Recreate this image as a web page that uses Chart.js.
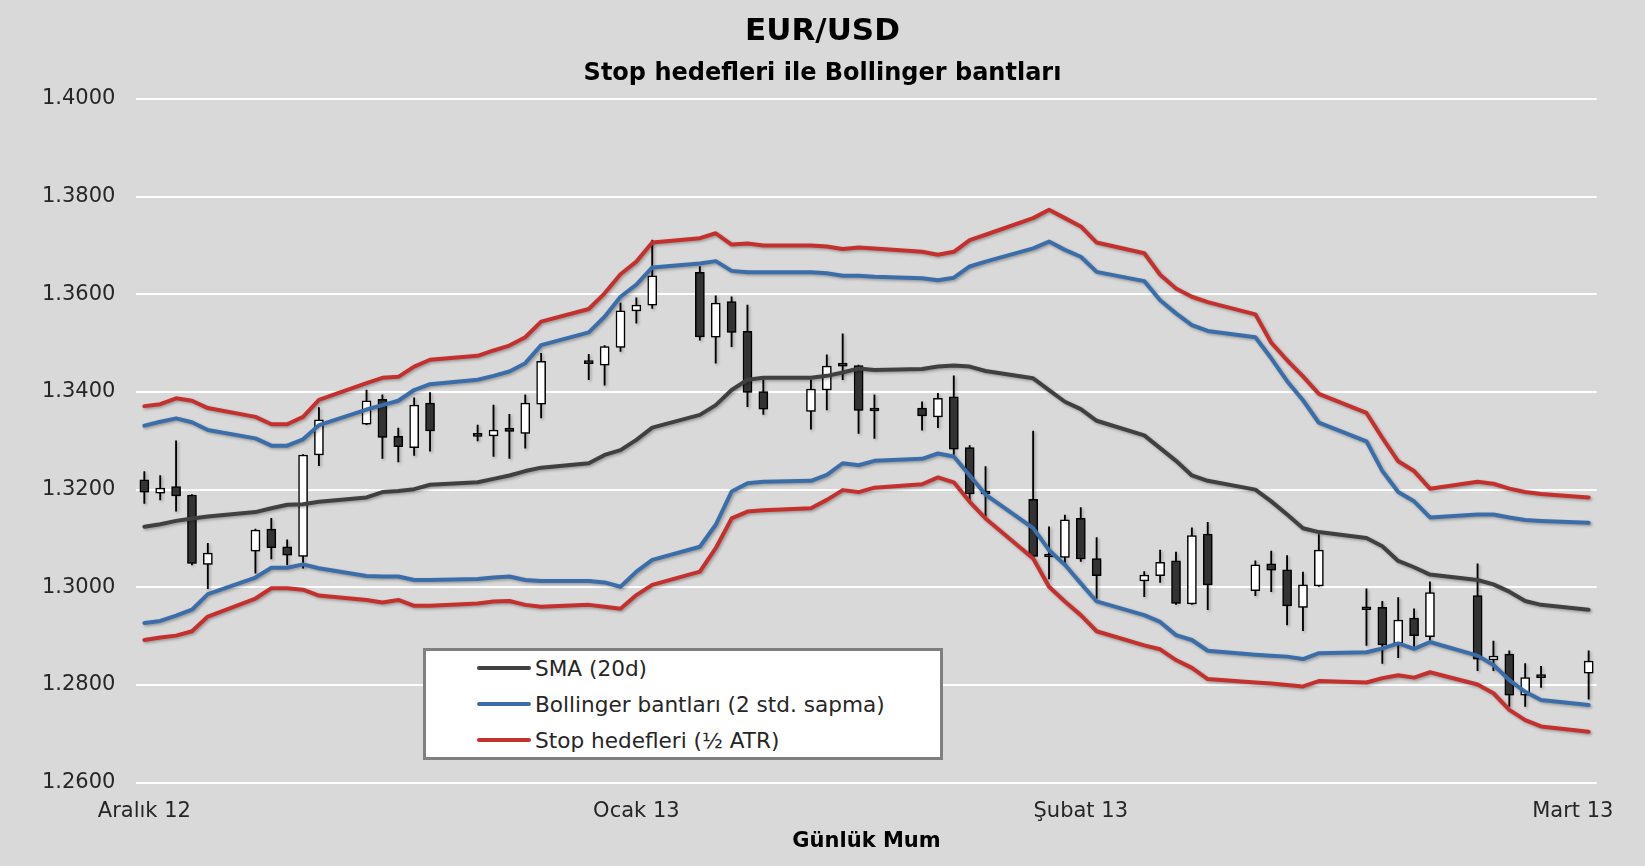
<!DOCTYPE html>
<html lang="tr">
<head>
<meta charset="utf-8">
<title>EUR/USD - Stop hedefleri ile Bollinger bantları</title>
<script src="https://cdn.jsdelivr.net/npm/chart.js@4.4.1/dist/chart.umd.min.js"></script>
<style>
  html, body { margin: 0; padding: 0; background: #d9d9d9; }
  #wrap { position: relative; width: 1645px; height: 866px; }
  #legend {
    position: absolute; left: 423px; top: 648px; width: 520px; height: 112px;
    box-sizing: border-box; background: #fff; border: 3px solid #7f7f7f;
    padding-left: 51px;
  }
  #legend .item {
    height: 36px; display: flex; align-items: center; white-space: nowrap;
    font: 21.6px "DejaVu Sans", Verdana, sans-serif; color: #262626;
  }
  #legend .item:first-child { margin-top: -1px; }
  #legend .swatch { width: 54px; height: 4px; border-radius: 2px; margin-right: 4px; }
</style>
</head>
<body>
<div id="wrap">
  <canvas id="chart" width="1645" height="866"></canvas>
  <div id="legend"></div>
</div>
<script>
// trading days shown on the chart
const tradeDates = [
  '2012-12-03','2012-12-04','2012-12-05','2012-12-06','2012-12-07',
  '2012-12-10','2012-12-11','2012-12-12','2012-12-13','2012-12-14',
  '2012-12-17','2012-12-18','2012-12-19','2012-12-20','2012-12-21',
  '2012-12-24','2012-12-25','2012-12-26','2012-12-27','2012-12-28',
  '2012-12-31','2013-01-01','2013-01-02','2013-01-03','2013-01-04',
  '2013-01-07','2013-01-08','2013-01-09','2013-01-10','2013-01-11',
  '2013-01-14','2013-01-15','2013-01-16','2013-01-17','2013-01-18',
  '2013-01-21','2013-01-22','2013-01-23','2013-01-24','2013-01-25',
  '2013-01-28','2013-01-29','2013-01-30','2013-01-31','2013-02-01',
  '2013-02-04','2013-02-05','2013-02-06','2013-02-07','2013-02-08',
  '2013-02-11','2013-02-12','2013-02-13','2013-02-14','2013-02-15',
  '2013-02-18','2013-02-19','2013-02-20','2013-02-21','2013-02-22',
  '2013-02-25','2013-02-26','2013-02-27','2013-02-28','2013-03-01',
  '2013-03-04'
];

// candles
const openP = [
  1.3220,1.3193,1.3206,1.3189,1.3047, 1.3074,1.3119,1.3083,1.3063,1.3271,
  1.3334,1.3385,1.3309,1.3286,1.3377, 1.3312,1.3310,1.3326,1.3315,1.3375,
  1.3461,1.3455,1.3491,1.3566,1.3578, 1.3645,1.3512,1.3585,1.3524,1.3401,
  1.3360,1.3404,1.3456,1.3454,1.3363, 1.3367,1.3349,1.3390,1.3286,1.3193,
  1.3180,1.3064,1.3061,1.3141,1.3059, 1.3013,1.3024,1.3054,1.2966,1.3109,
  1.2993,1.3048,1.3036,1.2959,1.3003, 1.2956,1.2959,1.2885,1.2937,1.2899,
  1.2983,1.2851,1.2863,1.2779,1.2817, 1.2824
];
const highP = [
  1.3237,1.3229,1.3300,1.3190,1.3090, 1.3119,1.3141,1.3097,1.3272,1.3368,
  1.3404,1.3394,1.3326,1.3388,1.3399, 1.3332,1.3373,1.3354,1.3394,1.3479,
  1.3477,1.3495,1.3582,1.3593,1.3711, 1.3657,1.3597,1.3595,1.3578,1.3425,
  1.3425,1.3476,1.3519,1.3455,1.3394, 1.3380,1.3397,1.3433,1.3290,1.3247,
  1.3320,1.3124,1.3148,1.3163,1.3102, 1.3032,1.3076,1.3072,1.3122,1.3133,
  1.3054,1.3074,1.3065,1.3031,1.3108, 1.2997,1.2971,1.2979,1.2956,1.3011,
  1.3048,1.2890,1.2870,1.2844,1.2838, 1.2870
];
const lowP = [
  1.3172,1.3179,1.3156,1.3046,1.2997, 1.3029,1.3058,1.3046,1.3039,1.3249,
  1.3333,1.3264,1.3257,1.3270,1.3279, 1.3300,1.3268,1.3264,1.3285,1.3347,
  1.3425,1.3414,1.3483,1.3541,1.3571, 1.3506,1.3459,1.3493,1.3370,1.3354,
  1.3324,1.3363,1.3425,1.3315,1.3305, 1.3322,1.3327,1.3271,1.3179,1.3145,
  1.3063,1.3017,1.3042,1.3053,1.2977, 1.2981,1.3010,1.2965,1.2965,1.2954,
  1.2983,1.2991,1.2923,1.2911,1.3002, 1.2881,1.2844,1.2856,1.2879,1.2890,
  1.2829,1.2829,1.2756,1.2756,1.2795, 1.2771
];
const closeP = [
  1.3195,1.3203,1.3187,1.3049,1.3070, 1.3117,1.3081,1.3066,1.3271,1.3343,
  1.3382,1.3307,1.3288,1.3373,1.3320, 1.3309,1.3322,1.3319,1.3377,1.3463,
  1.3458,1.3493,1.3566,1.3578,1.3638, 1.3513,1.3582,1.3522,1.3399,1.3365,
  1.3406,1.3453,1.3453,1.3362,1.3361, 1.3351,1.3387,1.3283,1.3191,1.3191,
  1.3063,1.3062,1.3138,1.3058,1.3024, 1.3025,1.3051,1.2967,1.3106,1.3005,
  1.3046,1.3035,1.2962,1.3005,1.3076, 1.2954,1.2882,1.2933,1.2901,1.2989,
  1.2853,1.2859,1.2779,1.2815,1.2815, 1.2849
];

// indicator lines
const smaLine = [
  1.3124,1.3129,1.3136,1.3141,1.3145, 1.3154,1.3162,1.3169,1.3170,1.3175,
  1.3184,1.3195,1.3197,1.3201,1.3210, 1.3215,1.3222,1.3229,1.3238,1.3245,
  1.3254,1.3271,1.3281,1.3302,1.3327, 1.3353,1.3373,1.3404,1.3425,1.3429,
  1.3429,1.3433,1.3440,1.3448,1.3445, 1.3447,1.3452,1.3454,1.3452,1.3443,
  1.3428,1.3404,1.3380,1.3365,1.3341, 1.3311,1.3285,1.3259,1.3229,1.3218,
  1.3200,1.3176,1.3149,1.3121,1.3113, 1.3101,1.3084,1.3054,1.3041,1.3026,
  1.3015,1.3006,1.2991,1.2972,1.2964, 1.2954
];
const bbUpper = [
  1.3331,1.3339,1.3346,1.3338,1.3322, 1.3305,1.3290,1.3290,1.3303,1.3332,
  1.3364,1.3373,1.3382,1.3404,1.3416, 1.3425,1.3433,1.3442,1.3459,1.3496,
  1.3522,1.3554,1.3595,1.3620,1.3655, 1.3663,1.3668,1.3648,1.3645,1.3645,
  1.3645,1.3643,1.3638,1.3638,1.3636, 1.3633,1.3629,1.3634,1.3657,1.3667,
  1.3694,1.3708,1.3691,1.3677,1.3646, 1.3627,1.3588,1.3561,1.3537,1.3525,
  1.3512,1.3469,1.3422,1.3383,1.3337, 1.3299,1.3238,1.3195,1.3176,1.3143,
  1.3149,1.3149,1.3143,1.3138,1.3136, 1.3132
];
const bbLower = [
  1.2927,1.2931,1.2942,1.2954,1.2986, 1.3020,1.3040,1.3040,1.3047,1.3039,
  1.3023,1.3022,1.3022,1.3015,1.3015, 1.3017,1.3020,1.3022,1.3015,1.3013,
  1.3013,1.3010,1.3001,1.3032,1.3056, 1.3083,1.3128,1.3196,1.3213,1.3216,
  1.3218,1.3230,1.3254,1.3250,1.3259, 1.3263,1.3274,1.3268,1.3229,1.3190,
  1.3121,1.3076,1.3046,1.3008,1.2971, 1.2943,1.2929,1.2902,1.2892,1.2870,
  1.2862,1.2860,1.2858,1.2853,1.2865, 1.2867,1.2875,1.2885,1.2874,1.2888,
  1.2860,1.2841,1.2810,1.2786,1.2769, 1.2759
];
const stopUpper = [
  1.3371,1.3375,1.3387,1.3382,1.3367, 1.3349,1.3334,1.3334,1.3349,1.3384,
  1.3418,1.3429,1.3431,1.3452,1.3466, 1.3474,1.3485,1.3495,1.3512,1.3544,
  1.3570,1.3602,1.3641,1.3667,1.3706, 1.3715,1.3725,1.3702,1.3704,1.3700,
  1.3700,1.3698,1.3693,1.3696,1.3694, 1.3687,1.3681,1.3687,1.3711,1.3722,
  1.3756,1.3773,1.3756,1.3739,1.3706, 1.3684,1.3640,1.3612,1.3595,1.3584,
  1.3559,1.3501,1.3465,1.3432,1.3396, 1.3357,1.3306,1.3258,1.3238,1.3202,
  1.3216,1.3212,1.3202,1.3195,1.3191, 1.3184
];
const stopLower = [
  1.2892,1.2897,1.2901,1.2910,1.2940, 1.2977,1.2998,1.2998,1.2995,1.2983,
  1.2974,1.2969,1.2974,1.2962,1.2962, 1.2967,1.2971,1.2972,1.2964,1.2960,
  1.2964,1.2960,1.2956,1.2984,1.3005, 1.3032,1.3080,1.3141,1.3155,1.3158,
  1.3162,1.3179,1.3199,1.3195,1.3204, 1.3211,1.3225,1.3215,1.3175,1.3141,
  1.3059,1.3001,1.2971,1.2943,1.2910, 1.2881,1.2873,1.2851,1.2835,1.2812,
  1.2805,1.2803,1.2800,1.2797,1.2808, 1.2805,1.2814,1.2820,1.2815,1.2826,
  1.2801,1.2783,1.2749,1.2728,1.2715, 1.2704
];

// x axis labels and the days they sit on
const xTickLabels = ['Aralık 12', 'Ocak 13', 'Şubat 13', 'Mart 13'];
const xTickDates = ['2012-12-03', '2013-01-03', '2013-01-31', '2013-03-03'];

// turn a date into a day number counted from the first candle
const DAY = 86400000;
const t0 = Date.parse(tradeDates[0]);
const dayNo = d => (Date.parse(d) - t0) / DAY;
const xs = tradeDates.map(dayNo);
const xTicks = xTickDates.map(dayNo);
const toPoints = arr => arr.map((v, i) => ({ x: xs[i], y: v }));

const up = closeP.map((c, i) => c >= openP[i]);

Chart.defaults.font.family = '"DejaVu Sans", Verdana, sans-serif';

// soft drop shadow like the original
const shadowPlugin = {
  id: 'shadow',
  beforeDatasetDraw(chart) {
    const c = chart.ctx;
    c.save();
    c.shadowColor = 'rgba(0,0,0,0.3)';
    c.shadowBlur = 3;
    c.shadowOffsetX = 1.5;
    c.shadowOffsetY = 1.5;
  },
  afterDatasetDraw(chart) {
    chart.ctx.restore();
  }
};

function lineSet(label, values, color, inLegend) {
  return {
    type: 'line',
    label: label,
    data: toPoints(values),
    borderColor: color,
    borderWidth: 4,
    pointRadius: 0,
    tension: 0,
    borderCapStyle: 'round',
    borderJoinStyle: 'round',
    order: 0,
    inLegend: inLegend
  };
}

const ctx = document.getElementById('chart').getContext('2d');
const chart = new Chart(ctx, {
  type: 'bar',
  data: {
    datasets: [
      lineSet('SMA (20d)', smaLine, '#404040', true),
      lineSet('Bollinger bantları (2 std. sapma)', bbUpper, '#3b6ea9', true),
      lineSet('Bollinger alt', bbLower, '#3b6ea9', false),
      lineSet('Stop hedefleri (½ ATR)', stopUpper, '#c3302e', true),
      lineSet('Stop alt', stopLower, '#c3302e', false),
      {
        // candle bodies
        label: 'Gövde',
        data: xs.map((x, i) => ({ x: x, y: [openP[i], closeP[i]] })),
        backgroundColor: up.map(u => u ? '#ffffff' : '#333333'),
        borderColor: '#000000',
        borderWidth: 1.5,
        borderSkipped: false,
        barThickness: 9,
        minBarLength: 3,
        grouped: false,
        order: 1
      },
      {
        // wicks
        label: 'Fitil',
        data: xs.map((x, i) => ({ x: x, y: [lowP[i], highP[i]] })),
        backgroundColor: '#000000',
        borderWidth: 0,
        barThickness: 1.2,
        grouped: false,
        order: 2
      }
    ]
  },
  options: {
    responsive: false,
    animation: false,
    layout: { padding: { top: 1, left: 10, right: 10, bottom: 12 } },
    plugins: {
      legend: { display: false },
      tooltip: { enabled: false },
      title: {
        display: true,
        text: 'EUR/USD',
        color: '#000',
        font: { size: 31, weight: 'bold' },
        padding: { top: 12, bottom: 4 }
      },
      subtitle: {
        display: true,
        text: 'Stop hedefleri ile Bollinger bantları',
        color: '#000',
        font: { size: 24, weight: 'bold' },
        padding: { top: 5, bottom: 11 }
      }
    },
    scales: {
      x: {
        type: 'linear',
        min: -0.5,
        max: 91.5,
        offset: false,
        grid: { display: false, drawTicks: false },
        border: { display: false },
        afterBuildTicks: s => { s.ticks = xTicks.map(v => ({ value: v })); },
        ticks: {
          callback: (v, i) => xTickLabels[i],
          autoSkip: false,
          maxRotation: 0,
          padding: 16,
          color: '#262626',
          font: { size: 21 }
        },
        title: {
          display: true,
          text: 'Günlük Mum',
          color: '#000',
          font: { size: 21, weight: 'bold' },
          padding: { top: -11, bottom: 0 }
        }
      },
      y: {
        min: 1.26,
        max: 1.40,
        ticks: {
          stepSize: 0.02,
          callback: v => v.toFixed(4),
          padding: 21,
          color: '#262626',
          font: { size: 21 }
        },
        grid: { color: '#ffffff', lineWidth: 2, drawTicks: false },
        border: { display: false },
        afterFit: s => { s.width = 126.4; }
      },
      // empty right-hand margin, keeps the plot where the original has it
      yRight: {
        position: 'right',
        min: 1.26,
        max: 1.40,
        grid: { display: false, drawTicks: false },
        border: { display: false },
        ticks: { display: false },
        afterFit: s => { s.width = 38.4; }
      }
    }
  },
  plugins: [shadowPlugin]
});

// legend box drawn in HTML from the chart's own datasets
const legendBox = document.getElementById('legend');
chart.data.datasets.filter(ds => ds.inLegend).forEach(ds => {
  const row = document.createElement('div');
  row.className = 'item';
  const sw = document.createElement('span');
  sw.className = 'swatch';
  sw.style.background = ds.borderColor;
  const tx = document.createElement('span');
  tx.textContent = ds.label;
  row.append(sw, tx);
  legendBox.append(row);
});
</script>
</body>
</html>
